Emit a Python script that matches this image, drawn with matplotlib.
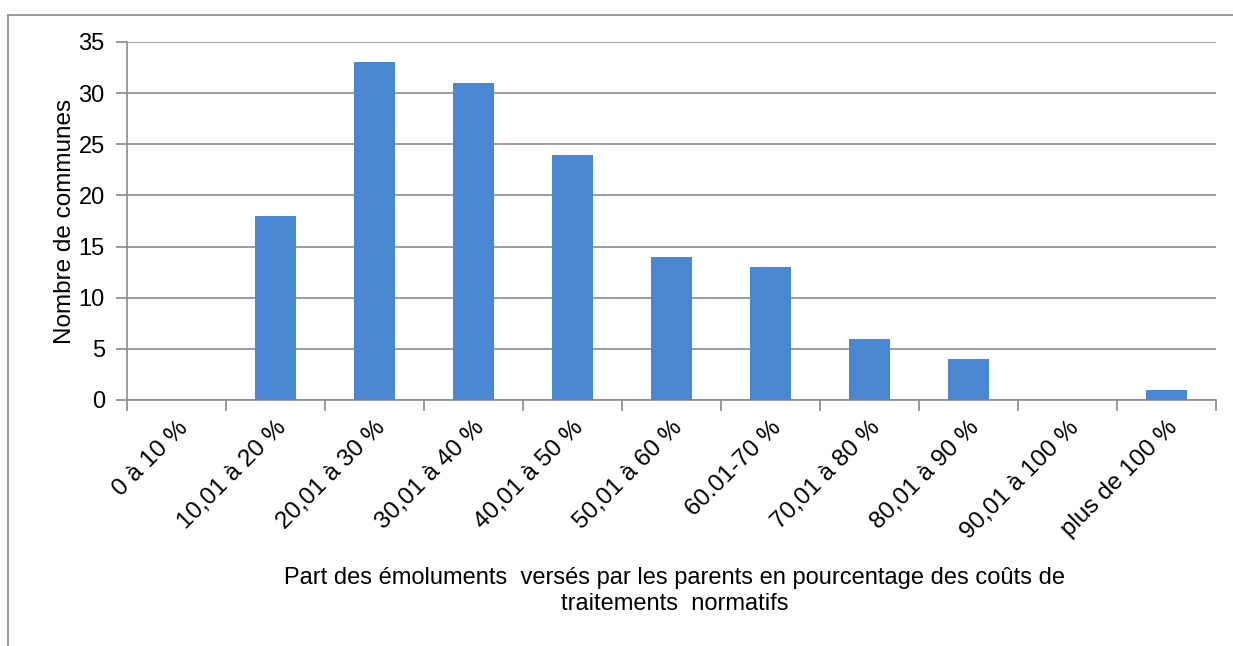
import matplotlib
matplotlib.use("Agg")
import matplotlib.pyplot as plt
from matplotlib.lines import Line2D

categories = ["0 à 10 %", "10,01 à 20 %", "20,01 à 30 %", "30,01 à 40 %", "40,01 à 50 %",
              "50,01 à 60 %", "60.01-70 %", "70,01 à 80 %", "80,01 à 90 %", "90,01 à 100 %",
              "plus de 100 %"]
values = [0, 18, 33, 31, 24, 14, 13, 6, 4, 0, 1]
yticks = [0, 5, 10, 15, 20, 25, 30, 35]

plt.rcParams['font.family'] = ['Liberation Sans', 'DejaVu Sans']
W, H = 1233, 646
fig = plt.figure(figsize=(W/100, H/100), dpi=100)
fig.patch.set_facecolor('white')

# outer frame (top and left visible)
fig.add_artist(Line2D([8/W, 1.0], [1-15/H, 1-15/H], color='#8c8c8c', lw=1.2, transform=fig.transFigure))
fig.add_artist(Line2D([8/W, 8/W], [0, 1-15/H], color='#8c8c8c', lw=1.2, transform=fig.transFigure))

ax = fig.add_axes([127/W, 1-400/H, (1216-127)/W, (400-42)/H])
x = list(range(len(categories)))
ax.bar(x, values, width=0.41, color='#4A87D3', zorder=3)
ax.set_xlim(-0.5, len(categories)-0.5)
ax.set_ylim(0, 35)
ax.set_yticks(yticks)
ax.tick_params(axis='y', labelsize=17, length=8, color='#888888', width=1.2, pad=8)
ax.yaxis.grid(True, color='#8c8c8c', lw=1.2, zorder=0)
for s in ['top', 'right']:
    ax.spines[s].set_visible(False)
for s in ['left', 'bottom']:
    ax.spines[s].set_color('#8c8c8c')
    ax.spines[s].set_linewidth(1.2)

ax.set_xticks(x)
ax.set_xticklabels(categories, rotation=45, ha='right', rotation_mode='anchor', fontsize=17.5)
ax.tick_params(axis='x', length=0, pad=12)
ax.set_xticks([i - 0.5 for i in range(len(categories)+1)], minor=True)
ax.tick_params(axis='x', which='minor', length=8, color='#888888', width=1.2)

ax.set_ylabel("Nombre de communes", fontsize=17.5, labelpad=2)
fig.text(675/W, 1-591/H, "Part des émoluments  versés par les parents en pourcentage des coûts de\ntraitements  normatifs",
         ha='center', va='center', fontsize=17, linespacing=1.25)

fig.savefig("out.png", dpi=100, facecolor='white')
